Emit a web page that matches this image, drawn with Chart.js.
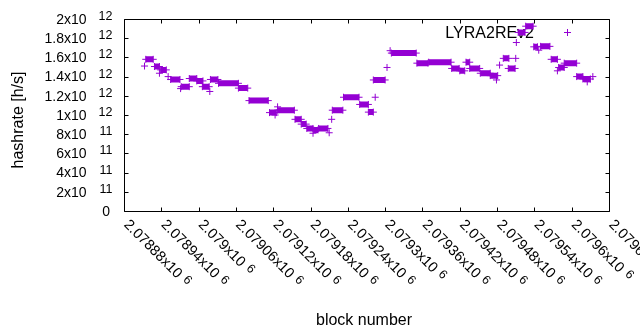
<!DOCTYPE html>
<html lang="en">
<head>
<meta charset="utf-8">
<title>LYRA2REv2 hashrate</title>
<script src="https://cdn.jsdelivr.net/npm/chart.js@4.4.0/dist/chart.umd.min.js"></script>
<style>
  body { margin: 0; background: #fff; }
  canvas { display: block; }
</style>
</head>
<body>
<canvas id="hashChart" width="640" height="330"></canvas>
<script>
// runs of blocks that share one hashrate estimate: first block, last block, value [h/s]
var runStart = [2078913, 2078915, 2078929, 2078937, 2078939, 2078951, 2078955, 2078971, 2078972, 2078985,
                2078997, 2079006, 2079018, 2079019, 2079032, 2079064, 2079081, 2079114, 2079123, 2079127,
                2079127, 2079155, 2079165, 2079174, 2079184, 2079185, 2079193, 2079210, 2079214, 2079215,
                2079233, 2079259, 2079273, 2079284, 2079281, 2079303, 2079308, 2079310, 2079351, 2079370,
                2079407, 2079420, 2079430, 2079436, 2079453, 2079469, 2079479, 2079484, 2079490, 2079498,
                2079510, 2079511, 2079514, 2079526, 2079539, 2079547, 2079550, 2079567, 2079577, 2079579,
                2079588, 2079608, 2079618, 2079625, 2079634];
var runEnd   = [2078913, 2078927, 2078937, 2078937, 2078948, 2078951, 2078970, 2078971, 2078985, 2078997,
                2079007, 2079017, 2079018, 2079031, 2079064, 2079079, 2079112, 2079125, 2079123, 2079127,
                2079154, 2079165, 2079173, 2079184, 2079184, 2079192, 2079208, 2079210, 2079214, 2079232,
                2079258, 2079273, 2079281, 2079284, 2079300, 2079303, 2079308, 2079350, 2079369, 2079406,
                2079419, 2079428, 2079436, 2079452, 2079469, 2079481, 2079479, 2079484, 2079499, 2079509,
                2079510, 2079511, 2079525, 2079538, 2079545, 2079547, 2079565, 2079577, 2079577, 2079588,
                2079608, 2079618, 2079630, 2079625, 2079634];
var runValue = [1.51e12, 1.58e12, 1.505e12, 1.435e12, 1.47e12, 1.40e12, 1.37e12, 1.275e12, 1.295e12, 1.38e12,
                1.355e12, 1.295e12, 1.245e12, 1.37e12, 1.33e12, 1.28e12, 1.15e12, 1.025e12, 1.0e12, 1.085e12,
                1.05e12, 0.955e12, 0.905e12, 0.86e12, 0.81e12, 0.845e12, 0.86e12, 0.815e12, 0.955e12, 1.05e12,
                1.185e12, 1.11e12, 1.03e12, 1.185e12, 1.365e12, 1.495e12, 1.67e12, 1.645e12, 1.54e12, 1.55e12,
                1.485e12, 1.46e12, 1.55e12, 1.485e12, 1.435e12, 1.41e12, 1.365e12, 1.52e12, 1.59e12, 1.485e12,
                1.59e12, 1.755e12, 1.86e12, 1.925e12, 1.71e12, 1.675e12, 1.715e12, 1.58e12, 1.46e12, 1.495e12,
                1.54e12, 1.40e12, 1.375e12, 1.345e12, 1.40e12];

var xTicks = [2078880, 2078940, 2079000, 2079060, 2079120, 2079180, 2079240,
              2079300, 2079360, 2079420, 2079480, 2079540, 2079600, 2079660];
var xTickLabels = ['2.07888', '2.07894', '2.079', '2.07906', '2.07912', '2.07918', '2.07924',
                   '2.0793', '2.07936', '2.07942', '2.07948', '2.07954', '2.0796', '2.07966'];
var xTickExp = '6';
var yTicks = [0, 2e11, 4e11, 6e11, 8e11, 1e12, 1.2e12, 1.4e12, 1.6e12, 1.8e12, 2e12];
var yTickLabels = ['0', '2x10', '4x10', '6x10', '8x10', '1x10', '1.2x10', '1.4x10', '1.6x10', '1.8x10', '2x10'];
var yTickExp = ['', '11', '11', '11', '11', '12', '12', '12', '12', '12', '12'];

var seriesName = 'LYRA2REv2';
var purple = '#9400d3';
var font = '"Liberation Sans", Arial, sans-serif';

// each run -> two points joined by a thick line, then a gap
var points = [];
for (var i = 0; i < runStart.length; i++) {
    points.push({ x: runStart[i], y: runValue[i] });
    if (runEnd[i] !== runStart[i]) points.push({ x: runEnd[i], y: runValue[i] });
    points.push({ x: runEnd[i], y: null });
}

var gnuplotLook = {
    id: 'gnuplotLook',
    beforeDatasetsDraw: function(chart) {
        var c = chart.ctx;
        var area = chart.chartArea;
        c.save();
        // key: text then sample
        c.font = '16px ' + font;
        c.fillStyle = '#000';
        c.textAlign = 'right';
        c.textBaseline = 'alphabetic';
        c.fillText(seriesName, area.right - 75, 37.5);
        var sx = Math.round(area.right - 42) + 0.5, sy = 32.5;
        c.strokeStyle = purple;
        c.lineWidth = 1;
        c.beginPath();
        c.moveTo(sx - 3.5, sy); c.lineTo(sx + 3.5, sy);
        c.moveTo(sx, sy - 3.5); c.lineTo(sx, sy + 3.5);
        c.stroke();
        c.restore();
    },
    afterDraw: function(chart) {
        var c = chart.ctx;
        var area = chart.chartArea;
        var xs = chart.scales.x, ys = chart.scales.y;
        var L = Math.floor(area.left) + 0.5, R = Math.floor(area.right) + 0.5;
        var T = Math.floor(area.top) + 0.5, B = Math.floor(area.bottom) + 0.5;
        var tl = 4;
        c.save();
        c.strokeStyle = '#000';
        c.lineWidth = 1;
        c.beginPath();
        c.rect(L, T, R - L, B - T);
        yTicks.forEach(function(v) {
            var py = Math.round(ys.getPixelForValue(v)) + 0.5;
            c.moveTo(L, py); c.lineTo(L + tl, py);
            c.moveTo(R, py); c.lineTo(R - tl, py);
        });
        xTicks.forEach(function(v) {
            var px = Math.round(xs.getPixelForValue(v)) + 0.5;
            c.moveTo(px, B); c.lineTo(px, B - tl);
            c.moveTo(px, T); c.lineTo(px, T + tl);
        });
        c.stroke();

        c.fillStyle = '#000';
        // y tick labels
        yTicks.forEach(function(v, k) {
            var py = ys.getPixelForValue(v);
            c.textBaseline = 'middle';
            c.textAlign = 'right';
            c.font = '14px ' + font;
            if (yTickExp[k] === '') {
                c.fillText(yTickLabels[k], 110, py + 1);
            } else {
                c.fillText(yTickLabels[k], 86.5, py + 1);
                c.font = '12.5px ' + font;
                c.textBaseline = 'alphabetic';
                c.fillText(yTickExp[k], 112.5, py + 1);
            }
        });

        // x tick labels, rotated -45 as in gnuplot
        xTicks.forEach(function(v, k) {
            var px = xs.getPixelForValue(v);
            c.save();
            c.translate(px + 2, B + 11);
            c.rotate(Math.PI / 4);
            c.textAlign = 'left';
            c.textBaseline = 'middle';
            c.font = '14.5px ' + font;
            var txt = xTickLabels[k] + 'x10';
            c.fillText(txt, 0, 0);
            var w = c.measureText(txt).width;
            c.font = '12.5px ' + font;
            c.textBaseline = 'alphabetic';
            c.fillText(xTickExp, w + 5, 1);
            c.restore();
        });

        // axis titles
        c.font = '16px ' + font;
        c.textAlign = 'center';
        c.textBaseline = 'alphabetic';
        c.fillText('block number', 364, 325);
        c.save();
        c.translate(23, 120);
        c.rotate(-Math.PI / 2);
        c.fillText('hashrate [h/s]', 0, 0);
        c.restore();
        c.restore();
    }
};

var ctx = document.getElementById('hashChart').getContext('2d');
var hashChart = new Chart(ctx, {
    type: 'scatter',
    data: {
        datasets: [{
            label: seriesName,
            data: points,
            showLine: true,
            spanGaps: false,
            borderColor: purple,
            borderWidth: 6,
            borderCapStyle: 'butt',
            tension: 0,
            pointStyle: 'cross',
            pointRadius: 3.5,
            pointHoverRadius: 3.5,
            pointBorderWidth: 1,
            pointBorderColor: purple,
            pointBackgroundColor: purple
        }]
    },
    options: {
        responsive: false,
        animation: false,
        events: [],
        layout: { padding: { left: 124, right: 31, top: 19, bottom: 119 } },
        scales: {
            x: { type: 'linear', min: xTicks[0], max: xTicks[xTicks.length - 1], display: false },
            y: { type: 'linear', min: yTicks[0], max: yTicks[yTicks.length - 1], display: false }
        },
        plugins: {
            legend: { display: false },
            tooltip: { enabled: false }
        }
    },
    plugins: [gnuplotLook]
});
</script>
</body>
</html>
